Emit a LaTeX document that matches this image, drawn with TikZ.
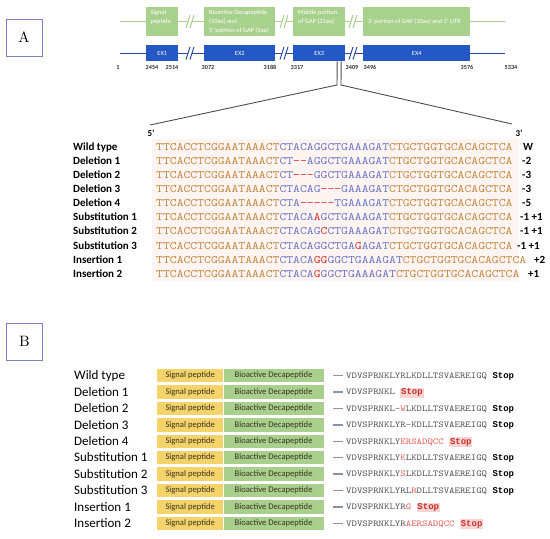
\documentclass[tikz,border=0pt]{standalone}
\usepackage{fontspec}
\setmainfont{Carlito}
\newfontfamily\seqfont[FakeStretch=1.15]{lmmono10-regular.otf}
\newfontfamily\stopfont{Liberation Mono}
\newfontfamily\boxfont{lmroman10-regular.otf}
\usetikzlibrary{calc}
\definecolor{gfill}{HTML}{A9D18E}
\definecolor{exblue}{HTML}{2458C4}
\definecolor{lineblue}{HTML}{2A4C9E}
\definecolor{pbox}{HTML}{7B7BC8}
\definecolor{so}{HTML}{C4873F}
\definecolor{sbl}{HTML}{6A74C6}
\definecolor{sr}{HTML}{DC2F2B}
\definecolor{bgpink}{HTML}{FEF5F2}
\definecolor{yfill}{HTML}{F4D46A}
\definecolor{bfill}{HTML}{A8CF8C}
\definecolor{pgray}{HTML}{4E4E4E}
\definecolor{pred}{HTML}{E25A55}
\definecolor{stopred}{HTML}{C9302C}
\definecolor{stoppink}{HTML}{FAD4D2}
\definecolor{conncol}{HTML}{8592A8}
\definecolor{numgray}{HTML}{333333}
\definecolor{boxtxt}{HTML}{3A3320}
\newcommand\Ohead{\textcolor{so}{TTCACCTCGGAATAAACT}}
\newcommand\Otail{\textcolor{so}{CTGCTGGTGCACAGCTCA}}
\newcommand\SqB[1]{\textcolor{sbl}{#1}}
\newcommand\SqR[1]{\textcolor{sr}{#1}}
\newcommand\PR[1]{\textcolor{pred}{#1}}
\newcommand\Stp{{\stopfont\bfseries\color{black}Stop}}
\newcommand\StpR{{\setlength{\fboxsep}{0.8pt}\colorbox{stoppink}{\stopfont\bfseries\color{stopred}Stop}}}
\begin{document}
\begin{tikzpicture}[x=1pt,y=-1pt,
  panelbox/.style={draw=pbox, line width=0.9pt, inner sep=0, minimum width=36pt, minimum height=37pt, font=\boxfont\fontsize{15}{15}\selectfont},
  gbox/.style={fill=gfill, inner sep=0, anchor=north west, minimum height=29pt},
  gtxt/.style={anchor=north west, inner sep=0, align=left, text=white, font=\fontsize{6.4}{8.8}\selectfont},
  exbox/.style={fill=exblue, inner sep=0, anchor=north west, minimum height=16pt, text=white, font=\fontsize{6.3}{7}\selectfont},
  numlbl/.style={inner sep=0, text=numgray, font=\bfseries\fontsize{6.2}{7}\selectfont},
  zline/.style={draw=black!70, line width=0.9pt},
  primelbl/.style={inner sep=0, font=\bfseries\fontsize{9}{10}\selectfont},
  lblA/.style={anchor=base west, inner sep=0, font=\bfseries\fontsize{11}{12}\selectfont},
  seqA/.style={anchor=base west, inner sep=0, font=\seqfont\fontsize{11.35}{12}\selectfont},
  lblB/.style={anchor=base west, inner sep=0, font=\fontsize{13}{14}\selectfont},
  ybox/.style={anchor=west, fill=yfill, inner sep=0, minimum width=66pt, minimum height=13.3pt, font=\fontsize{8.6}{9}\selectfont, text=boxtxt},
  bbox/.style={anchor=west, fill=bfill, inner sep=0, minimum width=100pt, minimum height=13.3pt, font=\fontsize{8.6}{9}\selectfont, text=boxtxt},
  seqB/.style={anchor=base west, inner sep=0, text=pgray, font=\seqfont\fontsize{8.98}{10}\selectfont},
  connB/.style={draw=conncol, line width=1.3pt},
]
\useasboundingbox (0,0) rectangle (550,539);
% ---------- Panel A ----------
\node[panelbox] (boxA) at (24,37.5) {A};
\coordinate (gl0) at (120,21.7); \coordinate (gl1) at (505,21.7);
\draw[draw=gfill, line width=1.2pt] (gl0) -- (gl1);
\coordinate (bl0) at (120,53.3); \coordinate (bl1) at (505,53.3);
\draw[draw=lineblue, line width=1.6pt] (bl0) -- (bl1);
\foreach \x in {191,285,354} {
  \fill[white] (\x-5,28)--(\x-1,15)--(\x+3,15)--(\x-1,28)--cycle;
  \draw[gfill, line width=1pt] (\x-5,28)--(\x-1,15) (\x-1,28)--(\x+3,15);
  \fill[white] (\x-5,59.5)--(\x-1,47)--(\x+3,47)--(\x-1,59.5)--cycle;
  \draw[lineblue, line width=1pt] (\x-5,59.5)--(\x-1,47) (\x-1,59.5)--(\x+3,47);
}
\node[gbox, minimum width=32pt] (g1) at (146,7) {};
\node[gbox, minimum width=71pt] (g2) at (204,7) {};
\node[gbox, minimum width=52pt] (g3) at (293,7) {};
\node[gbox, minimum width=107pt] (g4) at (363,7) {};
\node[gtxt] (g1t) at (150.5,10) {Signal\\peptide};
\node[gtxt] (g2t) at (209,10) {Bioactive Decapeptide\\(10aa) and\\5' portion of GAP (5aa)};
\node[gtxt] (g3t) at (298,10.3) {Middle portion\\of GAP (31aa)};
\node[gtxt, anchor=west] (g4t) at (368,22) {3' portion of GAP (10aa) and 3' UTR};
\node[exbox, minimum width=32pt] (ex1) at (146,45) {EX1};
\node[exbox, minimum width=71pt] (ex2) at (204,45) {EX2};
\node[exbox, minimum width=52pt] (ex3) at (293,45) {EX3};
\node[exbox, minimum width=107pt] (ex4) at (363,45) {EX4};
\foreach \x/\t [count=\k] in {118/1,152/2454,172/2514,208/3072,270/3188,297/3317,352/3409,370/3496,467/3576,511/5334}
  \node[numlbl] (n\k) at (\x,67) {\t};
\coordinate (zl0) at ([xshift=18pt]ex3.south);
\coordinate (zr0) at ([xshift=22pt]ex3.south);
\coordinate (zl1) at (337,85); \coordinate (zr1) at (341,85);
\coordinate (e5) at (150,125); \coordinate (e3) at (512,124);
\draw[zline] (zl0) -- (zl1) -- (e5);
\draw[zline] (zr0) -- (zr1) -- (e3);
\node[primelbl] (p5) at (151,133.5) {5’};
\node[primelbl] (p3) at (519,133) {3’};
\fill[bgpink] (152,139) rectangle (519,281);
\foreach \i/\lab/\sq/\rx/\rl in {
 0/Wild type/{\Ohead\SqB{CTACAGGCTGAAAGAT}\Otail}/523/W,
 1/Deletion 1/{\Ohead\SqB{CT}\SqR{{-}{-}}\SqB{AGGCTGAAAGAT}\Otail}/522/-2,
 2/Deletion 2/{\Ohead\SqB{CT}\SqR{{-}{-}{-}}\SqB{GGCTGAAAGAT}\Otail}/522/-3,
 3/Deletion 3/{\Ohead\SqB{CTACAG}\SqR{{-}{-}{-}}\SqB{GAAAGAT}\Otail}/522/-3,
 4/Deletion 4/{\Ohead\SqB{CTA}\SqR{{-}{-}{-}{-}{-}}\SqB{TGAAAGAT}\Otail}/522/-5,
 5/Substitution 1/{\Ohead\SqB{CTACA}\SqR{A}\SqB{GCTGAAAGAT}\Otail}/520/-1 +1,
 6/Substitution 2/{\Ohead\SqB{CTACAG}\SqR{C}\SqB{CTGAAAGAT}\Otail}/520/-1 +1,
 7/Substitution 3/{\Ohead\SqB{CTACAGGCTGA}\SqR{G}\SqB{AGAT}\Otail}/517/-1 +1,
 8/Insertion 1/{\Ohead\SqB{CTACA}\SqR{GG}\SqB{GGCTGAAAGAT}\Otail}/534/+2,
 9/Insertion 2/{\Ohead\SqB{CTACA}\SqR{G}\SqB{GGCTGAAAGAT}\Otail}/528/+1} {
  \node[lblA] (la\i) at (73,150.3+14.1*\i) {\lab};
  \node[seqA] (sa\i) at (156,150.3+14.1*\i) {\sq};
  \node[lblA] (ra\i) at (\rx,150.3+14.1*\i) {\rl};
}
% ---------- Panel B ----------
\node[panelbox] (boxB) at (24.5,341.5) {B};
\foreach \i/\lab/\sq in {
 0/Wild type/{VDVSPRNKLYRLKDLLTSVAEREIGQ \Stp},
 1/Deletion 1/{VDVSPRNKL \StpR},
 2/Deletion 2/{VDVSPRNKL-\PR{W}LKDLLTSVAEREIGQ \Stp},
 3/Deletion 3/{VDVSPRNKLYR-KDLLTSVAEREIGQ \Stp},
 4/Deletion 4/{VDVSPRNKLY\PR{ERSADQCC} \StpR},
 5/Substitution 1/{VDVSPRNKLY\PR{K}LKDLLTSVAEREIGQ \Stp},
 6/Substitution 2/{VDVSPRNKLY\PR{S}LKDLLTSVAEREIGQ \Stp},
 7/Substitution 3/{VDVSPRNKLYRL\PR{R}DLLTSVAEREIGQ \Stp},
 8/Insertion 1/{VDVSPRNKLYR\PR{G} \StpR},
 9/Insertion 2/{VDVSPRNKLYR\PR{AERSADQCC} \StpR}} {
  \node[lblB] (lb\i) at (74,379.9+16.4*\i) {\lab};
  \node[ybox] (yb\i) at (157,375.7+16.4*\i) {Signal peptide};
  \node[bbox] (gb\i) at (yb\i.east) {Bioactive Decapeptide};
  \draw[connB] ([xshift=9pt]gb\i.east) -- ([xshift=19pt]gb\i.east);
  \node[seqB] (sb\i) at (346,378.5+16.4*\i) {\sq};
}
\end{tikzpicture}
\end{document}
